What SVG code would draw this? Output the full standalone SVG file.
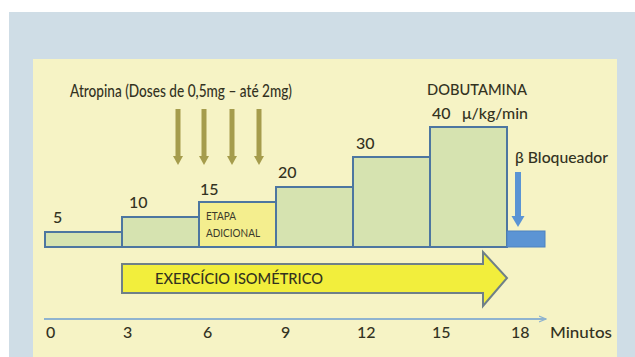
<svg xmlns="http://www.w3.org/2000/svg" width="635" height="357" viewBox="0 0 635 357">
<defs>
<style>
.t{font-family:Lato,"Liberation Sans",sans-serif;fill:#33321f;font-size:16px;font-weight:500}
.s{font-family:Lato,"Liberation Sans",sans-serif;fill:#3b3a2c;font-size:11px}
.step{fill:#d6e3b0;stroke:#4d76a0;stroke-width:2}
.olive{fill:#a59c4c}
</style>
<marker id="ax" markerWidth="8" markerHeight="8" refX="7" refY="4" orient="auto" markerUnits="userSpaceOnUse">
<path d="M0,1 L7,4 L0,7" fill="none" stroke="#8fb3cf" stroke-width="1.2"/>
</marker>
</defs>
<rect x="0" y="0" width="635" height="357" fill="#ffffff"/>
<rect x="9" y="12" width="626" height="345" fill="#cfdde6"/>
<rect x="33" y="59" width="584" height="298" fill="#f6f3c5"/>

<g id="title-atropina"><text class="t" x="70" y="97" style="font-size:17.5px" textLength="222" lengthAdjust="spacingAndGlyphs">Atropina  (Doses de 0,5mg – até 2mg)</text></g>
<g id="title-dobutamina">
<text class="t" x="427" y="95" textLength="100" lengthAdjust="spacingAndGlyphs">DOBUTAMINA</text>
<text class="t" x="462" y="119" textLength="66" lengthAdjust="spacingAndGlyphs">μ/kg/min</text>
</g>

<g id="atropina-arrows">
<rect class="olive" x="175.5" y="109" width="5" height="48"/><polygon class="olive" points="173,156 183,156 178,165"/>
<rect class="olive" x="201.5" y="109" width="5" height="48"/><polygon class="olive" points="199,156 209,156 204,165"/>
<rect class="olive" x="229.5" y="109" width="5" height="48"/><polygon class="olive" points="227,156 237,156 232,165"/>
<rect class="olive" x="256.5" y="109" width="5" height="48"/><polygon class="olive" points="254,156 264,156 259,165"/>
</g>

<g id="step-5"><rect class="step" x="45" y="232" width="77" height="15"/><text class="t" x="53" y="223">5</text></g>
<g id="step-10"><rect class="step" x="122" y="217" width="77" height="30"/><text class="t" x="129" y="208">10</text></g>
<g id="step-15"><rect class="step" x="199" y="202" width="77" height="45" style="fill:#f4ee8e"/><text class="t" x="200" y="195">15</text>
<text class="s" x="206" y="220" textLength="30" lengthAdjust="spacingAndGlyphs">ETAPA</text><text class="s" x="206" y="237" textLength="54" lengthAdjust="spacingAndGlyphs">ADICIONAL</text></g>
<g id="step-20"><rect class="step" x="276" y="187" width="77" height="60"/><text class="t" x="278" y="178">20</text></g>
<g id="step-30"><rect class="step" x="353" y="157" width="77" height="90"/><text class="t" x="356" y="149">30</text></g>
<g id="step-40"><rect class="step" x="430" y="127" width="77" height="120"/><text class="t" x="432" y="119">40</text></g>
<g id="beta-bloqueador">
<rect x="507" y="231" width="38" height="16" fill="#5b94d4" stroke="#4d82c0" stroke-width="1"/>
<rect x="515" y="172" width="6" height="45" fill="#5b94d4"/>
<polygon points="511.5,216 524.5,216 518,227" fill="#5b94d4"/>
<text class="t" x="515" y="163" textLength="93" lengthAdjust="spacingAndGlyphs">β Bloqueador</text>
</g>

<g id="exercicio-isometrico">
<polygon points="122,264 483,264 483,252 507,278 483,306 483,293 122,293" fill="#f2ee3c" stroke="#6f8088" stroke-width="2" stroke-linejoin="miter"/>
<text class="t" x="155" y="284" textLength="168" lengthAdjust="spacingAndGlyphs">EXERCÍCIO ISOMÉTRICO</text>
</g>

<g id="connectors">
<line x1="44" y1="319" x2="546" y2="319" stroke="#8fb3cf" stroke-width="2" marker-end="url(#ax)"/>
</g>

<g id="axis-labels">
<text class="t" x="46" y="338">0</text>
<text class="t" x="123" y="338">3</text>
<text class="t" x="203" y="338">6</text>
<text class="t" x="281" y="338">9</text>
<text class="t" x="357" y="338">12</text>
<text class="t" x="432" y="338">15</text>
<text class="t" x="511" y="338">18</text>
<text class="t" x="550" y="338" textLength="62" lengthAdjust="spacingAndGlyphs">Minutos</text>
</g>
</svg>
